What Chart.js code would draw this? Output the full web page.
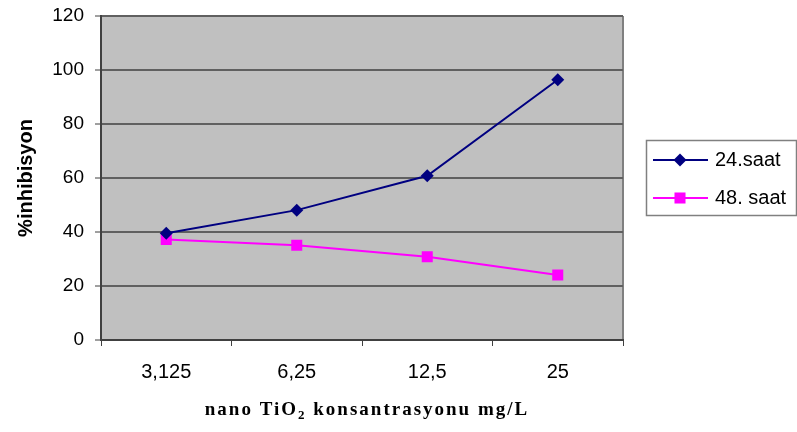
<!DOCTYPE html>
<html>
<head>
<meta charset="utf-8">
<script src="https://cdn.jsdelivr.net/npm/chart.js@4/dist/chart.umd.min.js"></script>
<style>
  html, body { margin: 0; padding: 0; background: #fff; }
  #kutu { width: 797px; height: 432px; }
</style>
</head>
<body>
<div id="kutu"><canvas id="grafik"></canvas></div>
<script>
// Konsantrasyonlar (x ekseni etiketleri)
const konsantrasyonlar = ['3,125', '6,25', '12,5', '25'];
// % inhibisyon değerleri
const saat24 = [39.5, 48.1, 60.8, 96.4];
const saat48 = [37.2, 35.1, 30.8, 24.1];
const seriAdlari = ['24.saat', '48. saat'];

const yaziTipi = '"Liberation Sans", Arial, sans-serif';

// Çizim alanı arka planı ve sağ kenar çizgisi
const arkaPlan = {
    id: 'arkaPlan',
    beforeDraw(chart) {
        const { ctx, chartArea: a } = chart;
        ctx.save();
        ctx.fillStyle = '#c0c0c0';
        ctx.fillRect(a.left, a.top, a.right - a.left, a.bottom - a.top);
        ctx.strokeStyle = '#808080';
        ctx.lineWidth = 2;
        ctx.beginPath();
        ctx.moveTo(a.right, a.top);
        ctx.lineTo(a.right, a.bottom);
        ctx.stroke();
        ctx.restore();
    }
};

// Kutulu gösterge (legend) ve alt başlık
const gosterge = {
    id: 'gosterge',
    afterDraw(chart) {
        const { ctx, chartArea: a } = chart;
        ctx.save();
        ctx.strokeStyle = '#808080';
        ctx.lineWidth = 1.5;
        ctx.strokeRect(646.5, 140.5, 150, 75);

        chart.data.datasets.forEach((ds, i) => {
            const y = 160 + i * 38;
            ctx.strokeStyle = ds.borderColor;
            ctx.lineWidth = 2;
            ctx.beginPath();
            ctx.moveTo(653, y);
            ctx.lineTo(708, y);
            ctx.stroke();
            ctx.fillStyle = ds.borderColor;
            ctx.beginPath();
            if (ds.pointStyle === 'rectRot') {
                const r = ds.pointRadius;
                ctx.moveTo(680, y - r);
                ctx.lineTo(680 + r, y);
                ctx.lineTo(680, y + r);
                ctx.lineTo(680 - r, y);
                ctx.closePath();
            } else {
                const s = ds.pointRadius * Math.SQRT1_2;
                ctx.rect(680 - s, y - s, 2 * s, 2 * s);
            }
            ctx.fill();
            ctx.fillStyle = '#000';
            ctx.font = '20px ' + yaziTipi;
            ctx.textBaseline = 'middle';
            ctx.textAlign = 'left';
            ctx.fillText(ds.label, 715, y);
        });

        // x ekseni başlığı (TiO2 alt simgeli)
        ctx.fillStyle = '#000';
        ctx.textBaseline = 'alphabetic';
        ctx.letterSpacing = '2px';
        const anaFont = 'bold 19px "Liberation Serif", "Times New Roman", serif';
        const altFont = 'bold 13px "Liberation Serif", "Times New Roman", serif';
        const p1 = 'nano TiO', p2 = '2', p3 = ' konsantrasyonu mg/L';
        ctx.font = anaFont;
        const w1 = ctx.measureText(p1).width, w3 = ctx.measureText(p3).width;
        ctx.font = altFont;
        const w2 = ctx.measureText(p2).width;
        let x = (a.left + a.right) / 2 - (w1 + w2 + w3) / 2 + 5;
        const yb = 415;
        ctx.textAlign = 'left';
        ctx.font = anaFont;
        ctx.fillText(p1, x, yb);
        x += w1;
        ctx.font = altFont;
        ctx.fillText(p2, x, yb + 4);
        x += w2;
        ctx.font = anaFont;
        ctx.fillText(p3, x, yb);
        ctx.restore();
    }
};

new Chart(document.getElementById('grafik'), {
    type: 'line',
    data: {
        labels: konsantrasyonlar,
        datasets: [
            {
                label: seriAdlari[0],
                data: saat24,
                borderColor: '#000080',
                backgroundColor: '#000080',
                borderWidth: 2,
                pointStyle: 'rectRot',
                pointRadius: 6.5,
                pointBorderWidth: 0,
                tension: 0
            },
            {
                label: seriAdlari[1],
                data: saat48,
                borderColor: '#ff00ff',
                backgroundColor: '#ff00ff',
                borderWidth: 2,
                pointStyle: 'rect',
                pointRadius: 7.8,
                pointBorderWidth: 0,
                tension: 0
            }
        ]
    },
    options: {
        responsive: true,
        maintainAspectRatio: false,
        animation: false,
        layout: { padding: { top: 16, right: 174, bottom: 0, left: 0 } },
        plugins: {
            legend: { display: false },
            tooltip: { enabled: false }
        },
        scales: {
            x: {
                offset: true,
                grid: {
                    offset: true,
                    drawOnChartArea: false,
                    drawTicks: true,
                    tickLength: 6,
                    color: '#404040',
                    lineWidth: 1
                },
                border: { color: '#404040', width: 2 },
                ticks: {
                    color: '#000',
                    font: { family: yaziTipi, size: 20 },
                    padding: 14,
                    maxRotation: 0
                },
                afterFit(scale) { scale.height = 92; }
            },
            y: {
                min: 0,
                max: 120,
                ticks: {
                    stepSize: 20,
                    color: '#000',
                    font: { family: yaziTipi, size: 19 },
                    padding: 11
                },
                grid: {
                    color: '#606060',
                    lineWidth: 2,
                    tickLength: 6,
                    tickColor: '#404040',
                    tickWidth: 1
                },
                border: { color: '#404040', width: 2 },
                title: {
                    display: true,
                    text: '%inhibisyon',
                    color: '#000',
                    font: { family: yaziTipi, size: 20, weight: 'bold' },
                    padding: { top: 14, bottom: 0 }
                },
                afterFit(scale) {
                    scale.width = 101;
                    scale.paddingTop = 0;
                    scale.paddingBottom = 0;
                }
            }
        }
    },
    plugins: [arkaPlan, gosterge]
});
</script>
</body>
</html>
